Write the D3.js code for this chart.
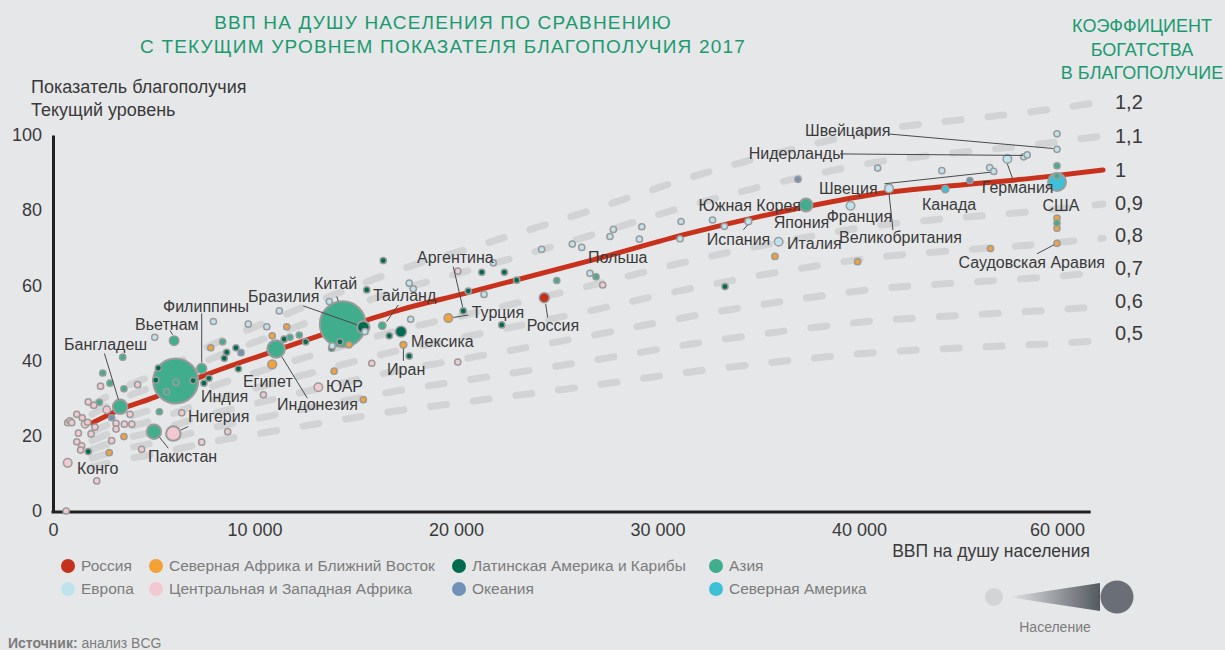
<!DOCTYPE html>
<html>
<head>
<meta charset="utf-8">
<script src="https://cdn.jsdelivr.net/npm/d3@7"></script>
<style>
body{margin:0;background:#e6e7e9;}
svg{display:block;font-family:"Liberation Sans",Arial,sans-serif;}
</style>
</head>
<body>
<svg id="chart" width="1225" height="650"></svg>
<script>
// regions in legend order
var regionNames = ["Россия","Северная Африка и Ближний Восток","Латинская Америка и Карибы","Азия",
                   "Европа","Центральная и Западная Африка","Океания","Северная Америка"];
var regionColors = ["#c4311d","#f5a133","#006b4f","#40ad8c","#bfe3ee","#f2c9d0","#7092b9","#3ec1d7"];

// [ВВП на душу, показатель благополучия, население (млн), подпись]
var russia = [[24380,56.7,65,"Россия"]];
var mena = [
  [2790,15.5,10],[3520,19.8,10],[7830,43.4,10],[10880,46.6,10],[10880,39.0,52,"Египет"],
  [11600,49.0,10],[13950,37.2,10],[14690,44.2,10],[15400,29.6,10],[17390,44.2,31,"Иран"],
  [19620,51.3,48,"Турция"],[35830,67.7,10],[39930,66.3,10],[53280,69.8,10],
  [60000,77.9,10],[60000,75.2,10],[60000,71.2,10,"Саудовская Аравия"]
];
var latam = [
  [1750,15.8,10],[5230,38.0,10],[5100,34.8,10],[6960,34.7,10],[7490,34.0,10],[7740,35.3,10],
  [8620,42.2,10],[8500,40.6,10],[9080,43.4,10],[9200,37.8,10],[11470,45.7,10],[12540,45.0,10],
  [13830,43.3,10],[14240,45.0,10],[15400,48.9,103,"Бразилия"],[15570,58.8,10],[16390,66.6,10],
  [16690,46.6,10],[17270,47.7,79,"Мексика"],[17680,41.2,10],[20610,58.5,10],[21280,63.5,10],
  [22400,63.5,10],[23010,61.4,10],[20360,53.2,10,"Аргентина"],[22270,49.5,10],[33350,59.7,10]
];
var asia = [
  [2470,36.7,10],[2830,34.0,10],[3520,32.5,10],[2300,28.9,10],[3330,27.7,139,"Бангладеш"],
  [5280,26.4,10],[5010,21.1,139,"Пакистан"],[3460,40.9,10],[6010,45.3,60,"Вьетнам"],
  [6090,34.6,1340,"Индия"],[5640,31.7,10],[6100,34.2,10],[7380,37.9,65,"Филиппины"],
  [8420,45.0,10],[11760,46.2,10],[12220,46.8,10],[11070,43.1,203,"Индонезия"],
  [14380,49.7,1390,"Китай"],[16340,49.3,37,"Тайланд"],[25000,61.3,10],[26950,62.3,10],
  [37370,81.4,110,"Япония"],[60000,91.8,10],[60000,89.1,10],[60000,76.6,10]
];
var europe = [
  [5050,46.2,10],[7960,50.4,10],[9690,49.7,10],[10610,49.0,10],[11230,53.2,10],[13710,55.7,10],
  [13860,43.9,10],[15480,47.7,10],[17680,60.6,10],[17880,59.1,10],[17750,51.0,10],[21850,66.0,10],
  [21390,57.6,10],[24250,69.6,10],[25770,71.0,10],[26240,70.1,10,"Польша"],[26650,63.2,10],
  [27810,74.9,10],[27640,73.0,10],[29220,75.6,10],[29100,72.3,10],[31170,77.0,10],[31120,72.4,10],
  [32730,77.4,10],[33320,75.7,10],[34510,77.0,30,"Испания"],[36010,71.6,48,"Италия"],
  [39580,81.2,48,"Франция"],[41890,91.2,10],[43030,85.8,48,"Великобритания"],[48370,90.5,10],
  [53200,91.3,10],[53610,90.3,10,"Швеция"],[54990,93.6,48,"Германия"],[56640,94.2,10],
  [56990,94.7,10,"Нидерланды"],[60000,100.3,10],[60000,96.2,10,"Швейцария"]
];
var africa = [
  [730,23.5,10],[840,24.0,10],[930,23.5,10],[1180,25.7,10],[1450,24.8,10],[1590,23.1,37],
  [1720,23.6,10],[2080,22.3,10],[1750,29.0,10],[2030,28.1,10],[2360,33.2,10],[4200,33.6,10],
  [2670,26.9,37],[3130,23.3,10],[3130,21.8,10],[3540,23.1,10],[3910,23.1,10],[3820,25.7,10],
  [1260,20.7,10],[1890,20.5,10],[2910,18.7,10],[1180,18.4,10],[1420,17.3,10],[1370,16.2,10],
  [4400,16.4,10],[6390,26.1,10],[7380,18.3,10],[8670,21.1,10],[10440,30.9,10],
  [5970,20.6,139,"Нигерия"],[2170,8.0,10],[650,0,10],[730,12.8,48,"Конго"],
  [13170,32.9,48,"ЮАР"],[15820,39.3,10],[20090,63.8,10],[20090,39.6,10],[27280,60.1,10]
];
var oceania = [[2910,24.8,10],[9330,42.1,10],[36970,88.2,10],[51200,87.9,10]];
var namerica = [[48720,85.6,33,"Канада"],[60000,87.5,212,"США"]];
var groups = [russia, mena, latam, asia, europe, africa, oceania, namerica];

// линия тренда (коэффициент 1)
var curveGdp = [1940,3330,5060,7300,11120,14390,17220,20300,26800,31610,37070,42420,48180,58590,64650];
var curveWb  = [23.4,27.0,30.3,35.6,42.8,48.7,53.5,57.7,66.8,73.9,80.6,84.6,86.2,88.8,90.7];

var coefs = [1.2,1.1,1,0.9,0.8,0.7,0.6,0.5];
var coefLabels = ["1,2","1,1","1","0,9","0,8","0,7","0,6","0,5"];
var xTicks = [0,10000,20000,30000,40000,60000];
var yTicks = [0,20,40,60,80,100];
var xAxisMax = 63400;

// подписи: точка, текст, смещение, выравнивание, выноска
var notes = [
  ["Бангладеш","Бангладеш",-56,-62.7,"start",[-15.7,-53.4,-1.7,-7.5]],
  ["Вьетнам","Вьетнам",-39,-16.7,"start",[-4,-10,-1.5,-6]],
  ["Филиппины","Филиппины",-38.7,-61.7,"start",[0,-55,0,-6]],
  ["Индия","Индия",25.3,15.7,"start",null],
  ["Нигерия","Нигерия",14.7,-17,"start",[15,-7,7.5,-3.5]],
  ["Пакистан","Пакистан",-6,25,"start",[5.5,5.5,14.3,16.6]],
  ["Конго","Конго",9.3,5.6,"start",null],
  ["Египет","Египет",-29.3,16.7,"start",null],
  ["Индонезия","Индонезия",1,55,"start",[5.7,7.7,31.3,49.3]],
  ["ЮАР","ЮАР",7.7,-1.3,"start",null],
  ["Бразилия","Бразилия",-115.3,-30.6,"start",[-60,-21.3,-6.3,-2.3]],
  ["Китай","Китай",-28.7,-40.3,"start",[-6,-27.6,-4.4,-22.6]],
  ["Тайланд","Тайланд",-9.3,-30.2,"start",[16,-20.7,4.4,-4]],
  ["Мексика","Мексика",10,9.3,"start",null],
  ["Иран","Иран",-16.3,25,"start",[0,4,0,16]],
  ["Аргентина","Аргентина",-46.3,-53.3,"start",[-10,-44.3,-0.6,-4]],
  ["Турция","Турция",23.4,-5.7,"start",[5,-0.7,20,-3]],
  ["Россия","Россия",-17.6,28,"start",[1.4,6.3,3.4,19.6]],
  ["Польша","Польша",6.3,10.4,"start",null],
  ["Япония","Южная Корея",-5,0.3,"end",null],
  ["Япония","Япония",-4.5,17.7,"middle",null],
  ["Испания","Испания",-41.6,18.3,"start",[-5,8.3,-0.8,3.5]],
  ["Италия","Италия",8.5,1.3,"start",null],
  ["Франция","Франция",-23.9,10.3,"start",null],
  ["Великобритания","Великобритания",-50,49.4,"start",[0,5,4,41.7]],
  ["Швеция","Швеция",-174.8,16.6,"start",[-109.3,12.3,-3.8,0.8]],
  ["Канада","Канада",-23.3,15,"start",null],
  ["Германия","Германия",-25.6,28.3,"start",[0,5,5.1,19.3]],
  ["США","США",4,23,"middle",null],
  ["Нидерланды","Нидерланды",-278.5,-1.7,"start",[-187.2,-1,-4.2,0.5]],
  ["Швейцария","Швейцария",-252,-18.6,"start",[-168.3,-15.3,-4,-0.8]],
  ["Саудовская Аравия","Саудовская Аравия",-98.4,19.2,"start",[-20,10.5,-3,1.5]]
];

var svg = d3.select("#chart");
var textCol = "#3a3a3a", greyCol = "#7c7c7c", green = "#1b9a70";

var x = d3.scaleLinear().domain([0,40000,60000]).range([53,859,1057]);
var y = d3.scaleLinear().domain([0,100]).range([511,135]);
var r = d3.scaleSqrt().domain([0,1400]).range([0,23]);
var radius = function(p){ return Math.max(3.1, r(p)); };

var loc = d3.formatLocale({decimal:",", thousands:"\u00a0", grouping:[3], currency:["",""]});
var fmt = loc.format(",d");

// titles
var t1 = svg.append("text").attr("text-anchor","middle")
  .attr("fill",green).style("font-size","19px").style("letter-spacing","1.2px");
t1.append("tspan").attr("x",443).attr("y",29).text("ВВП НА ДУШУ НАСЕЛЕНИЯ ПО СРАВНЕНИЮ");
t1.append("tspan").attr("x",443).attr("y",53).text("С ТЕКУЩИМ УРОВНЕМ ПОКАЗАТЕЛЯ БЛАГОПОЛУЧИЯ 2017");
var t2 = svg.append("text").attr("text-anchor","middle").attr("fill",green).style("font-size","18px");
["КОЭФФИЦИЕНТ","БОГАТСТВА","В БЛАГОПОЛУЧИЕ"].forEach(function(s,i){
  t2.append("tspan").attr("x",1142).attr("y",32+i*23.5).text(s);
});

var yt = svg.append("text").attr("fill",textCol).style("font-size","18px");
yt.append("tspan").attr("x",31).attr("y",93).text("Показатель благополучия");
yt.append("tspan").attr("x",31).attr("y",116).text("Текущий уровень");

// dashed coefficient lines and red trend line
var curve = curveGdp.map(function(g,i){ return [g, curveWb[i]]; });
var lineK = function(k){
  return d3.line().x(function(d){ return x(d[0]); }).y(function(d){ return y(d[1]*k); })
    .curve(d3.curveMonotoneX)(curve);
};
var endWb = curveWb[curveWb.length-1];
coefs.forEach(function(k){
  if (k === 1) return;
  svg.append("path").attr("d", lineK(k)).attr("fill","none")
    .attr("stroke","#d2d3d5").attr("stroke-width",7).attr("stroke-linecap","round")
    .attr("stroke-dasharray","16 27");
});
svg.append("path").attr("d", lineK(1)).attr("fill","none")
  .attr("stroke","#c8321c").attr("stroke-width",5).attr("stroke-linecap","round");

svg.selectAll(".coef").data(coefs).enter().append("text")
  .attr("x",1115).attr("y",function(k){ return y(k*endWb) - Math.max(0,1-k)*14; })
  .attr("dy","0.35em").attr("fill",textCol).style("font-size","20px")
  .text(function(k,i){ return coefLabels[i]; });

// axes
var gy = svg.append("g").attr("transform","translate(53,0)")
  .call(d3.axisLeft(y).tickValues(yTicks).tickSize(0).tickSizeOuter(0).tickPadding(11));
gy.select(".domain").attr("stroke","#222").attr("stroke-width",3);
gy.selectAll("text").attr("fill",textCol).style("font-size","18px").style("font-family","Liberation Sans, Arial");

var gx = svg.append("g").attr("transform","translate(0,512)")
  .call(d3.axisBottom(x).tickValues(xTicks).tickSize(0).tickPadding(11).tickFormat(fmt));
gx.select(".domain").remove();
gx.selectAll("text").attr("fill",textCol).style("font-size","18px").style("font-family","Liberation Sans, Arial");
svg.append("line").attr("x1",x(0)-1.5).attr("x2",x(xAxisMax)).attr("y1",512).attr("y2",512)
  .attr("stroke","#222").attr("stroke-width",3);

svg.append("text").attr("x",1090).attr("y",557).attr("text-anchor","end")
  .attr("fill",textCol).style("font-size","17.5px").text("ВВП на душу населения");

// dots
var pts = [];
groups.forEach(function(g,gi){
  g.forEach(function(d){ pts.push({gdp:d[0], wb:d[1], pop:d[2], name:d[3], reg:gi}); });
});
pts.sort(function(a,b){ return b.pop - a.pop; });
svg.append("g").selectAll("circle").data(pts).enter().append("circle")
  .attr("cx",function(d){ return x(d.gdp); })
  .attr("cy",function(d){ return y(d.wb); })
  .attr("r",function(d){ return radius(d.pop); })
  .attr("fill",function(d){ return regionColors[d.reg]; })
  .attr("stroke","#9b9b9b")
  .attr("stroke-width",function(d){ return d.pop > 100 ? 2 : 1.5; });

// labels
var byName = {};
pts.forEach(function(p){ if (p.name) byName[p.name] = p; });
var gl = svg.append("g");
notes.forEach(function(n){
  var p = byName[n[0]], cx = x(p.gdp), cy = y(p.wb);
  if (n[5]) {
    gl.append("line").attr("x1",cx+n[5][0]).attr("y1",cy+n[5][1])
      .attr("x2",cx+n[5][2]).attr("y2",cy+n[5][3])
      .attr("stroke","#4a4a4a").attr("stroke-width",1);
  }
  gl.append("text").attr("x",cx+n[2]).attr("y",cy+n[3]).attr("dy","0.35em")
    .attr("text-anchor",n[4]).attr("fill",textCol).style("font-size","16px").text(n[1]);
});

// legend
var legX = [68,156,459,716], legY = [566,589];
var lg = svg.append("g").selectAll("g").data(regionNames).enter().append("g")
  .attr("transform",function(d,i){ return "translate(" + legX[i%4] + "," + legY[Math.floor(i/4)] + ")"; });
lg.append("circle").attr("r",7).attr("fill",function(d,i){ return regionColors[i]; });
lg.append("text").attr("x",13).attr("dy","0.35em").attr("fill",greyCol)
  .style("font-size","15.5px").text(function(d){ return d; });

// population legend
var defs = svg.append("defs");
var grad = defs.append("linearGradient").attr("id","popgrad");
grad.append("stop").attr("offset","0").attr("stop-color","#e6e7e9");
grad.append("stop").attr("offset","1").attr("stop-color","#545960");
svg.append("circle").attr("cx",994).attr("cy",597).attr("r",9).attr("fill","#d3d4d6");
svg.append("polygon").attr("points","1008,597 1100,583 1100,611").attr("fill","url(#popgrad)");
svg.append("circle").attr("cx",1117).attr("cy",597).attr("r",16.5).attr("fill","#6a6f77");
svg.append("text").attr("x",1055).attr("y",632).attr("text-anchor","middle")
  .attr("fill",greyCol).style("font-size","14px").text("Население");

var src = svg.append("text").attr("x",8).attr("y",648).attr("fill",greyCol).style("font-size","14px");
src.append("tspan").style("font-weight","bold").text("Источник:");
src.append("tspan").text(" анализ BCG");
</script>
</body>
</html>
